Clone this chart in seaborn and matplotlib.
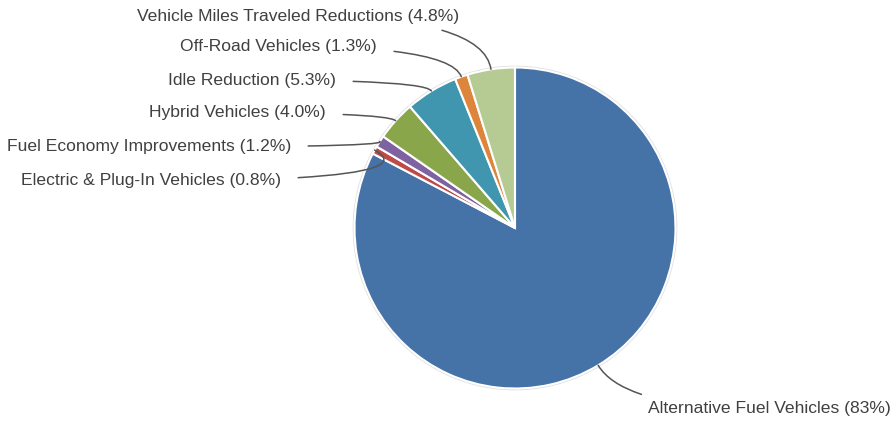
import numpy as np
import matplotlib
matplotlib.use("Agg")
import matplotlib.pyplot as plt
import seaborn as sns

categories = ["Alternative Fuel Vehicles", "Electric & Plug-In Vehicles", "Fuel Economy Improvements",
              "Hybrid Vehicles", "Idle Reduction", "Off-Road Vehicles", "Vehicle Miles Traveled Reductions"]
values = [83.0, 0.8, 1.2, 4.0, 5.3, 1.3, 4.8]
pct_labels = ["83%", "0.8%", "1.2%", "4.0%", "5.3%", "1.3%", "4.8%"]
colors = ["#4572A7", "#BE4B48", "#7E62A1", "#8AA64B", "#3F96AE", "#DE853C", "#B6CB93"]

sns.set_theme(style="white")
plt.rcParams['font.family'] = ['Liberation Sans', 'DejaVu Sans']

W, H = 892, 426
fig = plt.figure(figsize=(W / 100, H / 100), dpi=100)
ax = fig.add_axes([0, 0, 1, 1])

cx, cy, R = 515, H - 228, 160.5
ring = plt.Circle((cx, cy), R + 1.0, facecolor='none', edgecolor='#e0e0e0', lw=1.2, zorder=0)
ax.add_patch(ring)
wedges, _ = ax.pie(values, colors=colors, startangle=90, counterclock=False,
                   center=(cx, cy), radius=R, frame=True,
                   wedgeprops=dict(edgecolor='white', linewidth=1.5))
ax.set_xlim(0, W)
ax.set_ylim(0, H)
ax.set_aspect('equal')
ax.axis('off')

# text anchor positions (pixels, top-left origin), alignment
text_pos = {
    0: (648, 409, 'left'),
    1: (281, 181, 'right'),
    2: (291, 147, 'right'),
    3: (326, 113, 'right'),
    4: (336, 80, 'right'),
    5: (377, 46, 'right'),
    6: (459, 16, 'right'),
}
for i, w in enumerate(wedges):
    mid = np.deg2rad((w.theta1 + w.theta2) / 2)
    px, py = cx + R * np.cos(mid), cy + R * np.sin(mid)
    tx, ty, ha = text_pos[i]
    label = f"{categories[i]} ({pct_labels[i]})"
    ang_b = np.rad2deg(mid)
    ax.annotate(label, xy=(px, py), xytext=(tx, H - ty), ha=ha, va='center',
                fontsize=12.6, color='#404040',
                arrowprops=dict(arrowstyle='-', color='#555555', lw=1.1,
                                shrinkA=10, shrinkB=0,
                                connectionstyle=f"angle3,angleA=0,angleB={ang_b:.1f}"))

fig.savefig("out.png", dpi=100)
